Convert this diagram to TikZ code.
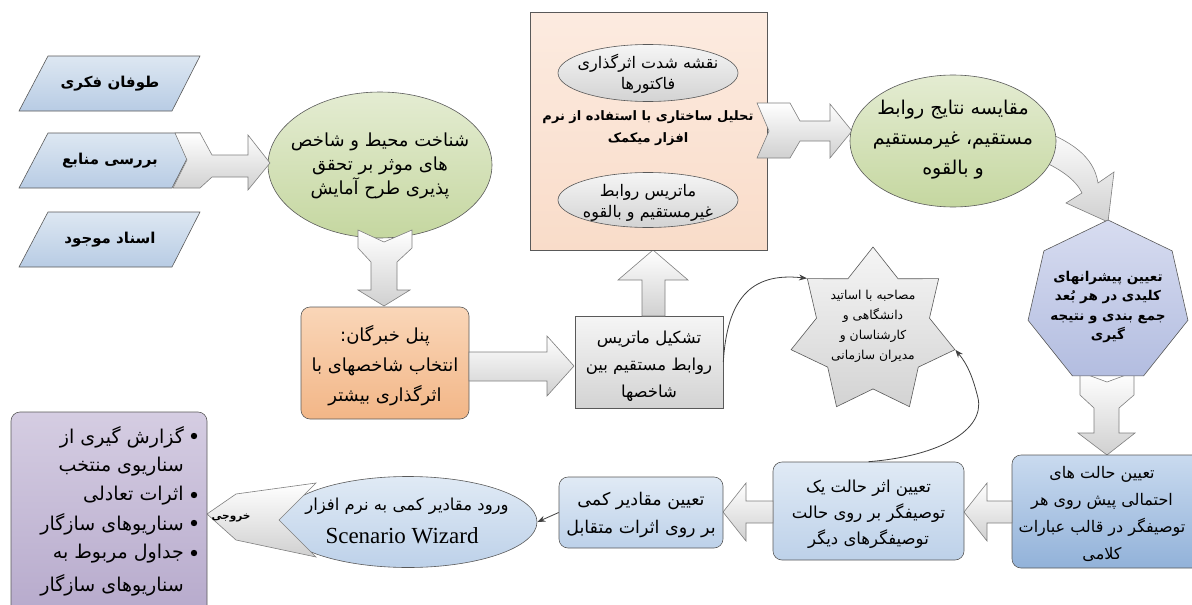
\documentclass[tikz,border=0pt]{standalone}
\usepackage{fontspec}
\setmainfont{Liberation Serif}
\newfontfamily\fa[Script=Arabic]{DejaVu Sans}
\TeXXeTstate=1
\usetikzlibrary{shapes.geometric,arrows.meta,calc}
\newcommand\pr[1]{\beginR #1\endR}
\definecolor{bordergray}{HTML}{595959}
\definecolor{arrowgray}{HTML}{7F7F7F}
\definecolor{arrowbot}{HTML}{D0D0D0}
\definecolor{paratop}{HTML}{DDE7F2}
\definecolor{parabot}{HTML}{B8CCE4}
\definecolor{greentop}{HTML}{E4ECD2}
\definecolor{greenbot}{HTML}{C5D7A0}
\definecolor{pinktop}{HTML}{FCEBE0}
\definecolor{pinkbot}{HTML}{F9DCC9}
\definecolor{graytop}{HTML}{F5F5F5}
\definecolor{graybot}{HTML}{D3D3D3}
\definecolor{orangetop}{HTML}{FAD6B8}
\definecolor{orangebot}{HTML}{F2B687}
\definecolor{heptop}{HTML}{D7DCF0}
\definecolor{hepbot}{HTML}{B3BDE0}
\definecolor{bluetop}{HTML}{C9DAEF}
\definecolor{bluebot}{HTML}{92B2D9}
\definecolor{lbluetop}{HTML}{E0EAF5}
\definecolor{lbluebot}{HTML}{BDD1E9}
\definecolor{purptop}{HTML}{D5CDE2}
\definecolor{purpbot}{HTML}{B4A7CA}
\definecolor{conncol}{HTML}{404040}
\begin{document}
\begin{tikzpicture}[x=1pt,y=-1pt,
  bd/.style={draw=bordergray,line width=0.6pt},
  barrow/.style={draw=arrowgray,line width=0.6pt,top color=white,bottom color=arrowbot},
  para/.style={bd,top color=paratop,bottom color=parabot},
  ellg/.style={bd,ellipse,inner sep=0pt,top color=greentop,bottom color=greenbot},
  ellgray/.style={bd,ellipse,inner sep=0pt,top color=graytop,bottom color=graybot},
  boxr/.style={bd,rectangle,rounded corners=9pt,inner sep=0pt},
  txt/.style={font=\fa\fontsize{18}{24}\selectfont,align=center,inner sep=0pt},
  btxt/.style={font=\fa\bfseries\fontsize{13}{22}\selectfont,align=center,inner sep=0pt},
  conn/.style={draw=conncol,line width=0.8pt,-{Stealth[length=8pt,width=6pt]}}
]
\clip (0,0) rectangle (1192,605);

% ---------- input parallelograms ----------
\draw[para] (48,56) -- (200,56) -- (172,111) -- (19,111) -- cycle;
\draw[para] (48,133) -- (200,133) -- (172,188) -- (19,188) -- cycle;
\draw[para] (48,212) -- (200,212) -- (172,267) -- (19,267) -- cycle;
\node[btxt,font=\fa\bfseries\fontsize{15}{20}\selectfont] (p1) at (110,84) {\pr{طوفان فکری}};
\node[btxt,font=\fa\bfseries\fontsize{15}{20}\selectfont] (p2) at (110,161) {\pr{بررسی منابع}};
\node[btxt,font=\fa\bfseries\fontsize{15}{20}\selectfont] (p3) at (110,240) {\pr{اسناد موجود}};

% ---------- first green ellipse ----------
\node[ellg,minimum width=224,minimum height=146] (e1) at (380,165) {};
\node[txt] (e1t) at (380,166) {\pr{شناخت محیط و شاخص}\\\pr{های موثر بر تحقق}\\\pr{پذیری طرح آمایش}};

% arrow parallelogram -> ellipse
\draw[barrow] (175,133) -- (200,133) -- (212,155) -- (248,155) -- (248,135) -- (270,163)
  -- (248,190) -- (248,177) -- (212,177) -- (200,188) -- (173,188) -- (187,160) -- cycle;

% arrow ellipse -> panel
\draw[barrow] (358,230) -- (384,242) -- (412,230) -- (412,248) -- (397,262) -- (397,290)
  -- (410,290) -- (384,306) -- (358,290) -- (371,290) -- (371,262) -- (358,248) -- cycle;

% ---------- expert panel ----------
\node[boxr,top color=orangetop,bottom color=orangebot,minimum width=168,minimum height=112] (panel) at (385,363) {};
\node[txt,font=\fa\fontsize{18}{30}\selectfont] (panelt) at (385,366) {\pr{پنل خبرگان:}\\\pr{انتخاب شاخصهای با}\\\pr{اثرگذاری بیشتر}};

% arrow panel -> matrix
\draw[barrow] (469,352) -- (547,352) -- (547,336) -- (574,366) -- (547,396) -- (547,381) -- (469,381) -- cycle;

% ---------- matrix box ----------
\node[bd,rectangle,inner sep=0pt,top color=graytop,bottom color=graybot,minimum width=148,minimum height=92] (mat) at (649,362) {};
\node[txt,font=\fa\fontsize{16.5}{27}\selectfont] (matt) at (649,366) {\pr{تشکیل ماتریس}\\\pr{روابط مستقیم بین}\\\pr{شاخصها}};

% arrow matrix -> pink
\draw[barrow] (642,316) -- (642,280) -- (618,280) -- (653,250) -- (688,280) -- (665,280) -- (665,316) -- cycle;

% ---------- structural analysis (pink) ----------
\node[bd,rectangle,inner sep=0pt,top color=pinktop,bottom color=pinkbot,minimum width=237,minimum height=238] (pink) at (648.5,131) {};
\node[ellgray,minimum width=180,minimum height=57] (pe1) at (648,73) {};
\node[txt,font=\fa\fontsize{16}{21}\selectfont] (pe1t) at (648,74) {\pr{نقشه شدت اثرگذاری}\\\pr{فاکتورها}};
\node[btxt] (pinkt) at (648,128) {\pr{تحلیل ساختاری با استفاده از نرم}\\\pr{افزار میکمک}};
\node[ellgray,minimum width=180,minimum height=55] (pe2) at (648,200) {};
\node[txt,font=\fa\fontsize{16}{21}\selectfont] (pe2t) at (648,203) {\pr{ماتریس روابط}\\\pr{غیرمستقیم و بالقوه}};

% arrow pink -> ellipse 2
\draw[barrow] (757,103) -- (790,103) -- (800,121) -- (830,121) -- (830,104) -- (852,131)
  -- (830,158) -- (830,141) -- (800,141) -- (790,158) -- (757,158) -- (769,131) -- cycle;

% curved arrow ellipse 2 -> heptagon (behind ellipse)
\draw[barrow] (1035,128) .. controls (1070,140) and (1094,156) .. (1098,183) -- (1114,172)
  -- (1108,222) -- (1066,203) -- (1082,193) .. controls (1076,180) and (1060,168) .. (1035,158) -- cycle;

% ---------- second green ellipse ----------
\node[ellg,minimum width=206,minimum height=132] (e2) at (953,141) {};
\node[txt,font=\fa\fontsize{19}{30}\selectfont] (e2t) at (953,140) {\pr{مقایسه نتایج روابط}\\\pr{مستقیم، غیرمستقیم}\\\pr{و بالقوه}};

% arrow heptagon -> states box (behind heptagon)
\draw[barrow] (1080,372) -- (1107,382) -- (1134,372) -- (1134,395) -- (1119,408) -- (1119,433)
  -- (1135,433) -- (1107,455) -- (1078,433) -- (1094,433) -- (1094,408) -- (1080,395) -- cycle;

% ---------- heptagon ----------
\node[bd,regular polygon,regular polygon sides=7,inner sep=0pt,minimum size=164,top color=heptop,bottom color=hepbot] (hep) at (1108,302) {};
\node[btxt,font=\fa\bfseries\fontsize{13.5}{19.5}\selectfont] (hept) at (1108,307) {\pr{تعیین پیشرانهای}\\\pr{کلیدی در هر بُعد}\\\pr{جمع بندی و نتیجه}\\\pr{گیری}};

% ---------- star ----------
\node[bd,star,star points=7,star point ratio=1.45,inner sep=0pt,minimum size=168,top color=graytop,bottom color=graybot] (star) at (873,331) {};
\node[txt,font=\fa\fontsize{12.3}{20}\selectfont] (start) at (873,326) {\pr{مصاحبه با اساتید}\\\pr{دانشگاهی و}\\\pr{کارشناسان و}\\\pr{مدیران سازمانی}};

% ---------- bottom row ----------
\node[boxr,top color=bluetop,bottom color=bluebot,minimum width=196,minimum height=113] (states) at (1110,511.5) {};
\node[txt,font=\fa\fontsize{16}{27}\selectfont] (statest) at (1102,514) {\pr{تعیین حالت های}\\\pr{احتمالی پیش روی هر}\\\pr{توصیفگر در قالب عبارات}\\\pr{کلامی}};

\draw[barrow] (1012,501) -- (987,501) -- (987,483) -- (964,512) -- (987,541) -- (987,523) -- (1012,523) -- cycle;

\node[boxr,top color=lbluetop,bottom color=lbluebot,minimum width=191,minimum height=98] (athar) at (868.5,511) {};
\node[txt,font=\fa\fontsize{16.5}{26}\selectfont] (athart) at (868.5,514) {\pr{تعیین اثر حالت یک}\\\pr{توصیفگر بر روی حالت}\\\pr{توصیفگرهای دیگر}};

\draw[barrow] (773,501) -- (746,501) -- (746,483) -- (723,512) -- (746,541) -- (746,523) -- (773,523) -- cycle;

\node[boxr,top color=lbluetop,bottom color=lbluebot,minimum width=164,minimum height=71] (maq) at (641,512.5) {};
\node[txt,font=\fa\fontsize{17.5}{28}\selectfont] (maqt) at (641,515) {\pr{تعیین مقادیر کمی}\\\pr{بر روی اثرات متقابل}};

\node[bd,ellipse,inner sep=0pt,top color=lbluetop,bottom color=lbluebot,minimum width=258,minimum height=91] (vor) at (408,522) {};
\node[txt,font=\fa\fontsize{16.5}{20}\selectfont] (vort1) at (407,506) {\pr{ورود مقادیر کمی به نرم افزار}};
\node[font=\fontsize{23}{26}\selectfont,inner sep=0pt] (vort2) at (402,536) {Scenario Wizard};

\draw[conn] (maq.west) -- (vor.east);

% output arrow
\draw[barrow] (316,483) -- (236,494) -- (207,514) -- (236,540) -- (316,557) -- (279,520) -- cycle;
\node[btxt,font=\fa\bfseries\fontsize{10.5}{14}\selectfont] (outt) at (231,518) {\pr{خروجی}};

% ---------- output list ----------
\node[boxr,top color=purptop,bottom color=purpbot,minimum width=196,minimum height=220] (purp) at (109,522) {};
\node[txt,anchor=east,font=\fa\fontsize{19}{24}\selectfont] (l1) at (184,437) {\pr{گزارش گیری از}};
\node[txt,anchor=east,font=\fa\fontsize{19}{24}\selectfont] (l2) at (184,467) {\pr{سناریوی منتخب}};
\node[txt,anchor=east,font=\fa\fontsize{19}{24}\selectfont] (l3) at (184,496) {\pr{اثرات تعادلی}};
\node[txt,anchor=east,font=\fa\fontsize{19}{24}\selectfont] (l4) at (184,524) {\pr{سناریوهای سازگار}};
\node[txt,anchor=east,font=\fa\fontsize{19}{24}\selectfont] (l5) at (184,554) {\pr{جداول مربوط به}};
\node[txt,anchor=east,font=\fa\fontsize{19}{24}\selectfont] (l6) at (184,585) {\pr{سناریوهای سازگار}};
\foreach \yy in {436,495,523,553} \fill[black] (194,\yy) circle (3.2);

% ---------- connectors to the star ----------
\draw[conn] (mat.east) .. controls (727,300) and (750,272) .. (star.outer point 2);
\draw[conn] (athar.north) .. controls (940,456) and (985,430) .. (978,398)
  .. controls (973,378) and (968,365) .. (star.outer point 6);
\end{tikzpicture}
\end{document}
